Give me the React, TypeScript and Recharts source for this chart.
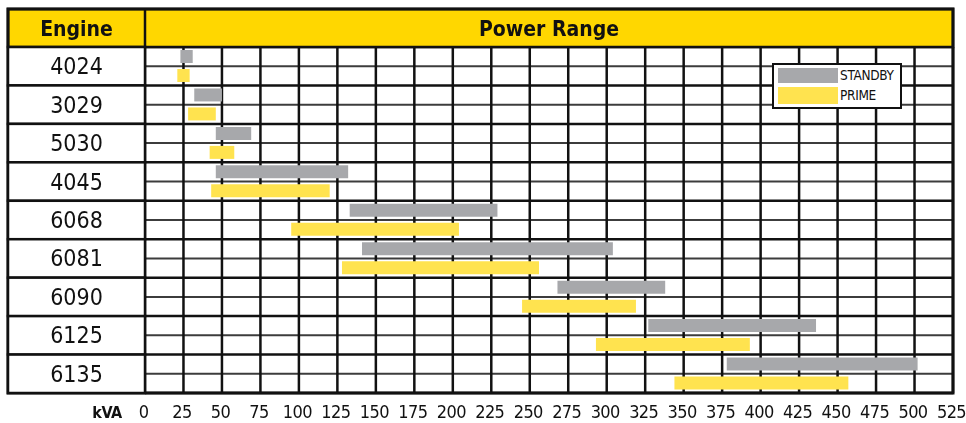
import { BarChart, Bar, XAxis, YAxis, CartesianGrid, Legend, Customized } from 'recharts';

const engines = ['4024', '3029', '5030', '4045', '6068', '6081', '6090', '6125', '6135'];
const standbyLow = [23, 32, 46, 46, 133, 141, 268, 327, 378];
const standbyHigh = [31, 50, 69, 132, 229, 304, 338, 436, 502];
const primeLow = [21, 28, 42, 43, 95, 128, 245, 293, 344];
const primeHigh = [29, 46, 58, 120, 204, 256, 319, 393, 457];
const kvaTicks = [0, 25, 50, 75, 100, 125, 150, 175, 200, 225, 250, 275, 300, 325, 350, 375, 400, 425, 450, 475, 500, 525];
const legendOrder = ['STANDBY', 'PRIME'];

const data = engines.map((engine, i) => ({
  engine,
  standby: [standbyLow[i], standbyHigh[i]],
  prime: [primeLow[i], primeHigh[i]],
}));

// table geometry (page px)
const W = 966;
const H = 423;
const LEFT = 8;
const COL = 145;
const RIGHT = 953;
const TOP = 9;
const HEAD = 47;
const BOTTOM = 393;
const ROW_H = (BOTTOM - HEAD) / engines.length;

const FONT = "'DejaVu Sans Condensed', 'DejaVu Sans', sans-serif";
const INK = '#111';
const HEAD_YELLOW = '#FFD700';
const GRAY = '#A7A8AB';
const YELLOW = '#FFE34F';

function EngineTick({ y, payload }: any) {
  return (
    <g>
      <rect x={LEFT} y={y - ROW_H / 2} width={COL - LEFT} height={ROW_H} fill="#fff" stroke={INK} strokeWidth={2.5} />
      <text
        x={(LEFT + COL) / 2}
        y={y}
        dy={8}
        textAnchor="middle"
        fontFamily={FONT}
        fontStretch="condensed"
        fontSize={23}
        fill={INK}
      >
        {payload.value}
      </text>
    </g>
  );
}

function KvaTick({ x, y, payload }: any) {
  return (
    <text
      x={x - 1.5}
      y={y}
      dy="0.71em"
      textAnchor="middle"
      fontFamily={FONT}
      fontStretch="condensed"
      fontSize={18}
      letterSpacing={-0.6}
      fill={INK}
    >
      {payload.value}
    </text>
  );
}

function Frame() {
  return (
    <g>
      <rect x={LEFT} y={TOP} width={RIGHT - LEFT} height={HEAD - TOP} fill={HEAD_YELLOW} stroke={INK} strokeWidth={2.5} />
      <line x1={COL} x2={COL} y1={TOP} y2={HEAD} stroke={INK} strokeWidth={2.5} />
      <text x={(LEFT + COL) / 2} y={36} textAnchor="middle" fontFamily={FONT} fontStretch="condensed" fontWeight="bold" fontSize={21} fill={INK}>
        Engine
      </text>
      <text x={(COL + RIGHT) / 2} y={36} textAnchor="middle" fontFamily={FONT} fontStretch="condensed" fontWeight="bold" fontSize={21} fill={INK}>
        Power Range
      </text>
      <rect x={LEFT} y={TOP} width={RIGHT - LEFT} height={BOTTOM - TOP} fill="none" stroke={INK} strokeWidth={3} />
      <text x={107} y={418} textAnchor="middle" fontFamily={FONT} fontStretch="condensed" fontWeight="bold" fontSize={16} letterSpacing={-0.5} fill={INK}>
        kVA
      </text>
    </g>
  );
}

function LegendBox({ payload }: any) {
  const items = [...(payload || [])].sort(
    (a: any, b: any) => legendOrder.indexOf(a.value) - legendOrder.indexOf(b.value),
  );
  return (
    <div
      style={{
        boxSizing: 'border-box',
        width: 130,
        height: 46,
        border: `2.5px solid ${INK}`,
        background: '#fff',
        padding: '3px 0 0 4px',
        fontFamily: FONT,
        fontStretch: 'condensed',
        fontSize: 13.5,
        color: INK,
      }}
    >
      {items.map((entry: any, i: number) => (
        <div key={entry.value} style={{ display: 'flex', alignItems: 'center', height: i === 0 ? 15 : 17, marginTop: i === 0 ? 0 : 4 }}>
          <span style={{ display: 'inline-block', width: 60, height: '100%', background: entry.color, marginRight: 2 }} />
          <span style={{ lineHeight: '13px', letterSpacing: -0.3 }}>{entry.value}</span>
        </div>
      ))}
    </div>
  );
}

export default function App() {
  return (
    <div style={{ position: 'fixed', left: 0, top: 0 }}>
      <BarChart
        width={W}
        height={H}
        data={data}
        layout="vertical"
        margin={{ top: HEAD, right: W - RIGHT, bottom: 0, left: LEFT }}
        barGap={6}
      >
        <CartesianGrid
          vertical={false}
          stroke="#3c3c3c"
          strokeWidth={2}
          horizontalCoordinatesGenerator={({ offset }: any) =>
            engines.map((_, i) => offset.top + ((i + 0.5) * offset.height) / engines.length)
          }
        />
        <CartesianGrid
          stroke={INK}
          strokeWidth={2.5}
          horizontalCoordinatesGenerator={({ offset }: any) =>
            [...engines, ''].map((_, i) => offset.top + (i * offset.height) / engines.length)
          }
        />
        <XAxis
          type="number"
          domain={[0, 525]}
          ticks={kvaTicks}
          interval={0}
          height={H - BOTTOM}
          axisLine={false}
          tickLine={false}
          tickSize={6}
          tickMargin={6}
          tick={<KvaTick />}
        />
        <YAxis
          type="category"
          dataKey="engine"
          width={COL - LEFT}
          interval={0}
          axisLine={false}
          tickLine={false}
          tick={<EngineTick />}
        />
        <Legend
          layout="horizontal"
          align="center"
          verticalAlign="middle"
          content={<LegendBox />}
          wrapperStyle={{ left: 772, top: 63, width: 130, height: 46 }}
        />
        <Bar dataKey="standby" name="STANDBY" fill={GRAY} barSize={13} isAnimationActive={false} />
        <Bar dataKey="prime" name="PRIME" fill={YELLOW} barSize={13} isAnimationActive={false} />
        <Customized component={Frame} />
      </BarChart>
    </div>
  );
}
